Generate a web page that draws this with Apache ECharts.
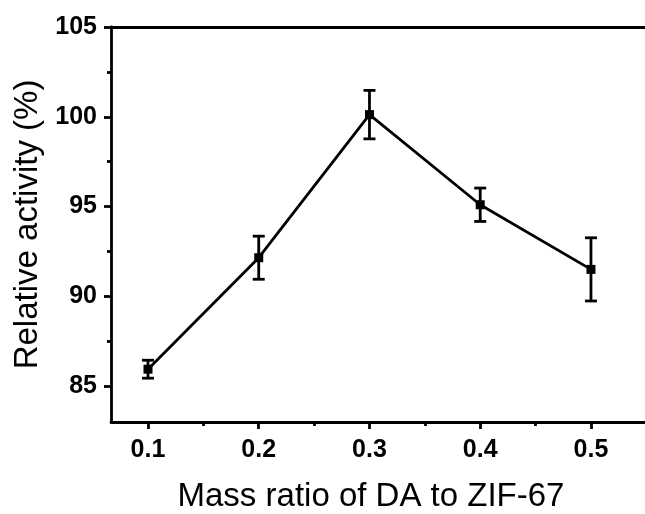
<!DOCTYPE html>
<html>
<head>
<meta charset="utf-8">
<script src="https://cdn.jsdelivr.net/npm/echarts@6/dist/echarts.min.js"></script>
<style>
html, body { margin: 0; padding: 0; background: #fff; }
#chart { width: 645px; height: 514px; }
</style>
</head>
<body>
<div id="chart"></div>
<script>
// data
const ratios = [0.1, 0.2, 0.3, 0.4, 0.5];
const activity = [85.94, 92.15, 100.12, 95.1, 91.5];
const errors = [0.5, 1.2, 1.35, 0.93, 1.76];
const xTicks = [0.1, 0.2, 0.3, 0.4, 0.5];
const xMinorTicks = [0.15, 0.25, 0.35, 0.45];
const yTicks = [85, 90, 95, 100, 105];
const yMinorTicks = [87.5, 92.5, 97.5, 102.5];

let myChart = echarts.init(document.getElementById('chart'));

const font = 'Liberation Sans, Arial, sans-serif';
const xRange = { min: 0.0666, max: 0.5488 };
const yRange = { min: 83, max: 105 };

let options = {
    animation: false,
    grid: { left: 111, top: 27, right: 0, bottom: 92, outerBoundsMode: 'none', containLabel: false },
    xAxis: [
        {
            type: 'value', position: 'bottom', min: xRange.min, max: xRange.max,
            name: 'Mass ratio of DA to ZIF-67', nameLocation: 'middle', nameGap: 58,
            nameTextStyle: { fontFamily: font, fontSize: 33, color: '#000', padding: [0, 14, 0, 0] },
            axisLine: { show: true, lineStyle: { color: '#000', width: 2.8 } },
            axisTick: { show: true, inside: false, length: 7, customValues: xTicks, lineStyle: { color: '#000', width: 2.8 } },
            axisLabel: {
                customValues: xTicks, margin: 16,
                fontFamily: font, fontSize: 25, fontWeight: 'bold', color: '#000',
                formatter: v => v.toFixed(1)
            },
            splitLine: { show: false }
        },
        {
            type: 'value', position: 'bottom', min: xRange.min, max: xRange.max,
            axisLine: { show: false },
            axisTick: { show: true, length: 4, customValues: xMinorTicks, lineStyle: { color: '#000', width: 2.8 } },
            axisLabel: { show: false },
            splitLine: { show: false }
        },
        {
            type: 'value', position: 'top', min: xRange.min, max: xRange.max,
            axisLine: { show: true, lineStyle: { color: '#000', width: 2.8 } },
            axisTick: { show: false },
            axisLabel: { show: false },
            splitLine: { show: false }
        }
    ],
    yAxis: [
        {
            type: 'value', position: 'left', min: yRange.min, max: yRange.max,
            name: 'Relative activity (%)', nameLocation: 'middle', nameGap: 66, nameRotate: 90,
            nameTextStyle: { fontFamily: font, fontSize: 33, color: '#000' },
            axisLine: { show: true, lineStyle: { color: '#000', width: 2.8 } },
            axisTick: { show: true, length: 7, customValues: yTicks, lineStyle: { color: '#000', width: 2.8 } },
            axisLabel: {
                customValues: yTicks, margin: 14,
                fontFamily: font, fontSize: 25, fontWeight: 'bold', color: '#000'
            },
            splitLine: { show: false }
        },
        {
            type: 'value', position: 'left', min: yRange.min, max: yRange.max,
            axisLine: { show: false },
            axisTick: { show: true, length: 4, customValues: yMinorTicks, lineStyle: { color: '#000', width: 2.8 } },
            axisLabel: { show: false },
            splitLine: { show: false }
        }
    ],
    series: [
        {
            type: 'line',
            data: ratios.map((x, i) => [x, activity[i]]),
            symbol: 'rect',
            symbolSize: 9,
            itemStyle: { color: '#000' },
            lineStyle: { color: '#000', width: 2.8 },
            z: 3
        },
        {
            type: 'custom',
            data: ratios.map((x, i) => [x, activity[i] - errors[i], activity[i] + errors[i]]),
            renderItem: function (params, api) {
                let lo = api.coord([api.value(0), api.value(1)]);
                let hi = api.coord([api.value(0), api.value(2)]);
                let cap = 6;
                let style = { stroke: '#000', lineWidth: 2.8 };
                return {
                    type: 'group',
                    children: [
                        { type: 'line', shape: { x1: lo[0], y1: lo[1], x2: hi[0], y2: hi[1] }, style: style },
                        { type: 'line', shape: { x1: lo[0] - cap, y1: lo[1], x2: lo[0] + cap, y2: lo[1] }, style: style },
                        { type: 'line', shape: { x1: hi[0] - cap, y1: hi[1], x2: hi[0] + cap, y2: hi[1] }, style: style }
                    ]
                };
            },
            z: 4
        }
    ]
};
myChart.setOption(options);
</script>
</body>
</html>
